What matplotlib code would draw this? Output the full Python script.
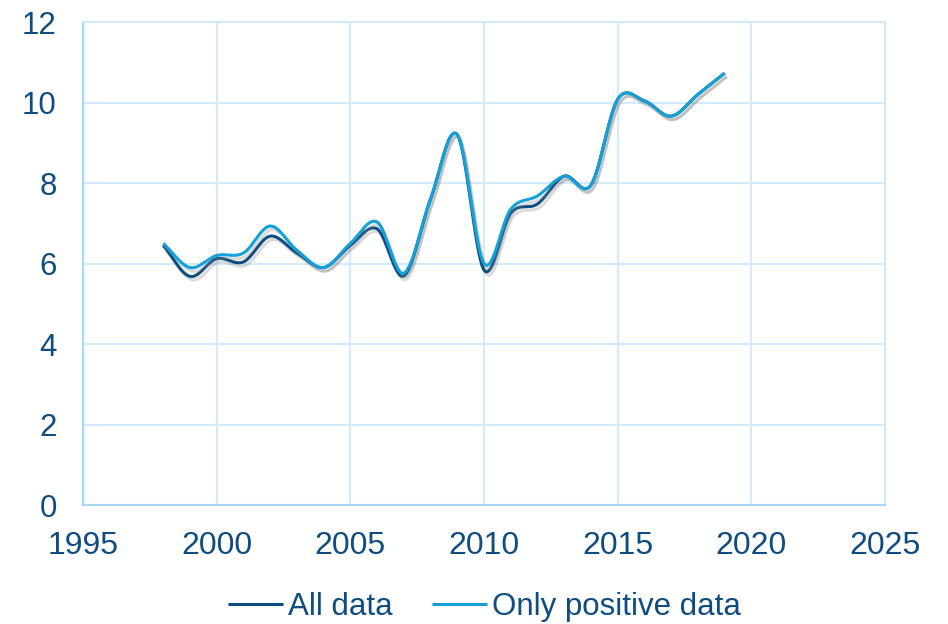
import numpy as np
import matplotlib
matplotlib.use("Agg")
import matplotlib.pyplot as plt
import matplotlib.patheffects as pe

years = list(range(1998, 2020))
all_data = [6.45, 5.68, 6.12, 6.04, 6.68, 6.26, 5.9, 6.45, 6.86, 5.69, 7.6, 9.2,
            5.84, 7.25, 7.48, 8.17, 7.95, 10.08, 10.04, 9.66, 10.2, 10.73]
pos_data = [6.5, 5.9, 6.2, 6.26, 6.93, 6.33, 5.9, 6.5, 7.03, 5.76, 7.6, 9.2,
            6.0, 7.35, 7.68, 8.17, 7.95, 10.08, 10.04, 9.66, 10.2, 10.73]
xticks = [1995, 2000, 2005, 2010, 2015, 2020, 2025]
yticks = [0, 2, 4, 6, 8, 10, 12]

TXT = "#0F4C81"
GRID = "#D2EAFB"
SPINE = "#A8D6F7"


def smooth(x, y, n=30):
    # catmull-rom style curve, like excel "smoothed line"
    x = np.asarray(x, float)
    y = np.asarray(y, float)
    px = np.concatenate([[2 * x[0] - x[1]], x, [2 * x[-1] - x[-2]]])
    py = np.concatenate([[2 * y[0] - y[1]], y, [2 * y[-1] - y[-2]]])
    ox, oy = [], []
    t = np.linspace(0, 1, n, endpoint=False)
    for i in range(1, len(px) - 2):
        for arr, out in ((px, ox), (py, oy)):
            p0, p1, p2, p3 = arr[i - 1], arr[i], arr[i + 1], arr[i + 2]
            out.extend(0.5 * (2 * p1 + (-p0 + p2) * t
                              + (2 * p0 - 5 * p1 + 4 * p2 - p3) * t ** 2
                              + (-p0 + 3 * p1 - 3 * p2 + p3) * t ** 3))
    ox.append(x[-1])
    oy.append(y[-1])
    return ox, oy


plt.rcParams['font.family'] = ['Liberation Sans', 'DejaVu Sans']
fig = plt.figure(figsize=(9.48, 6.24), dpi=100)
ax = fig.add_axes([0.0876, 0.1907, 0.846, 0.774])

shadow = [pe.SimpleLineShadow(offset=(1.5, -2.5), shadow_color='#888888', alpha=0.3), pe.Normal()]
sx, sy = smooth(years, all_data)
ax.plot(sx, sy, color="#0E4D80", lw=2.2, label="All data", path_effects=shadow, solid_capstyle='butt')
sx, sy = smooth(years, pos_data)
ax.plot(sx, sy, color="#14A0D8", lw=2.2, label="Only positive data", path_effects=shadow, solid_capstyle='butt')

ax.set_xlim(1995, 2025)
ax.set_ylim(0, 12)
ax.set_xticks(xticks)
ax.set_yticks(yticks)
ax.grid(True, color=GRID, lw=1.5)
ax.set_axisbelow(True)
for s in ax.spines.values():
    s.set_color(GRID)
    s.set_linewidth(1.5)
ax.spines['left'].set_color(SPINE)
ax.spines['bottom'].set_color(SPINE)
ax.tick_params(length=0, colors=TXT)
ax.tick_params(axis='x', labelsize=23, pad=19)
ax.tick_params(axis='y', labelsize=22.5, pad=19)

leg = fig.legend(*ax.get_legend_handles_labels(), loc='center', bbox_to_anchor=(0.511, 0.027),
                 ncol=2, frameon=False, fontsize=22.5, handlelength=1.76, handletextpad=0.16,
                 columnspacing=1.28, borderpad=0)
for t in leg.get_texts():
    t.set_color(TXT)
for h in leg.get_lines():
    h.set_path_effects([])

fig.savefig("out.png", dpi=100)
